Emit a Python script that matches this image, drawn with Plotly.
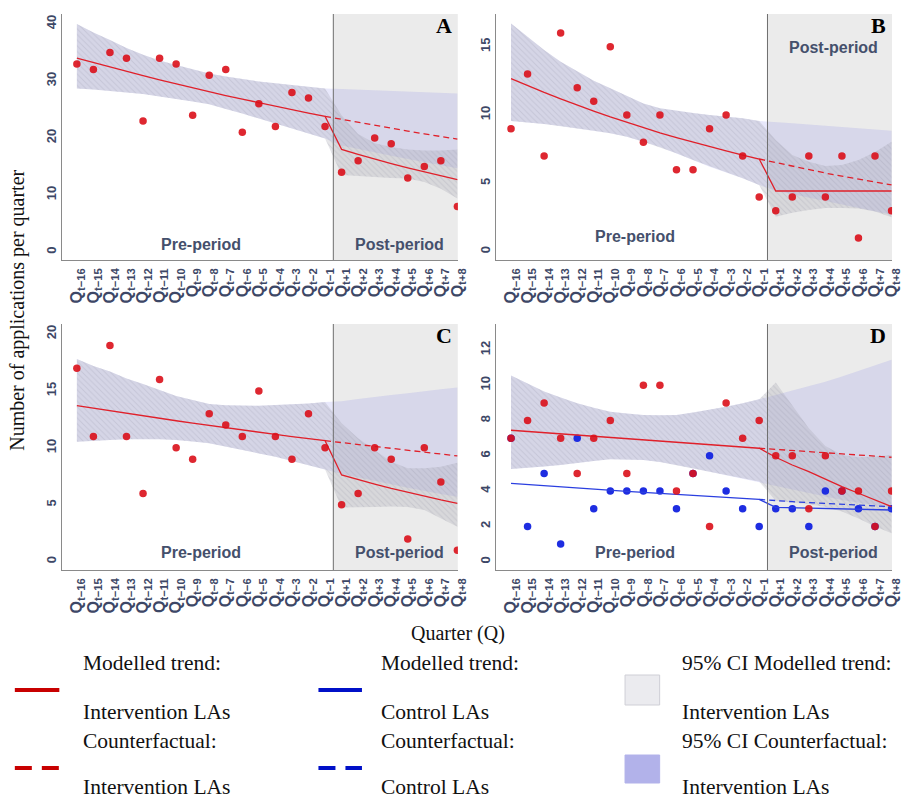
import plotly.graph_objects as go

# ---------------- data ----------------
quarters = ["t−16", "t−15", "t−14", "t−13", "t−12", "t−11", "t−10", "t−9",
            "t−8", "t−7", "t−6", "t−5", "t−4", "t−3", "t−2", "t−1",
            "t+1", "t+2", "t+3", "t+4", "t+5", "t+6", "t+7", "t+8"]
tick_labels = ["Q<sub>" + q + "</sub>" for q in quarters]

A_counts = [33, 32, 35, 34, 23, 34, 33, 24, 31, 32, 21, 26, 22, 28, 27, 22, 14, 16, 20, 19, 13, 15, 16, 8]
A_trend = [34.0, 33.2, 32.42, 31.66, 30.92, 30.19, 29.48, 28.79, 28.11, 27.45, 26.81, 26.18, 25.56, 24.96, 24.38, 23.80,
           18.0, 17.13, 16.29, 15.50, 14.75, 14.03, 13.35, 12.70]
A_ci_up = [40.0, 38.5, 37.2, 35.8, 34.6, 33.6, 32.8, 32.0, 31.3, 30.8, 30.3, 29.9, 29.6, 29.3, 29.1, 28.7,
           24.0, 20.7, 19.1, 18.4, 18.0, 17.8, 17.8, 18.0]
A_ci_lo = [28.7, 28.5, 28.3, 28.0, 27.7, 27.3, 26.9, 26.4, 25.9, 25.1, 24.3, 23.4, 22.5, 21.6, 20.8, 19.9,
           13.5, 13.3, 13.2, 13.0, 12.9, 12.3, 11.1, 9.4]
A_cf = [23.8, 23.26, 22.73, 22.21, 21.71, 21.21, 20.73, 20.26, 19.80]
A_cf_up = [28.7, 28.6, 28.5, 28.4, 28.3, 28.2, 28.1, 27.95, 27.8]
A_cf_lo = [19.9, 18.7, 18.1, 17.5, 16.9, 16.3, 15.7, 15.2, 14.7]

B_counts = [9, 13, 7, 16, 12, 11, 15, 10, 8, 10, 6, 6, 9, 10, 7, 4, 3, 4, 7, 4, 7, 1, 7, 3]
B_trend = [12.66, 12.14, 11.65, 11.18, 10.72, 10.28, 9.86, 9.46, 9.07, 8.70, 8.35, 8.01, 7.68, 7.37, 7.07, 6.78,
           4.44, 4.44, 4.44, 4.44, 4.44, 4.44, 4.44, 4.44]
B_ci_up = [16.7, 15.7, 14.75, 13.9, 13.2, 12.5, 11.95, 11.4, 10.85, 10.5, 10.3, 10.15, 10.0, 9.9, 9.76, 9.56,
           8.17, 7.07, 6.58, 6.27, 6.34, 6.7, 7.3, 8.05]
B_ci_lo = [9.56, 9.45, 9.34, 9.2, 9.02, 8.85, 8.66, 8.4, 8.05, 7.65, 7.2, 6.7, 6.22, 5.8, 5.37, 4.88,
           2.56, 2.85, 3.05, 3.2, 3.2, 3.15, 2.93, 2.52]
B_cf = [6.78, 6.51, 6.24, 5.99, 5.75, 5.52, 5.29, 5.08, 4.88]
B_cf_up = [9.56, 9.5, 9.4, 9.3, 9.2, 9.1, 9.0, 8.95, 8.85]
B_cf_lo = [4.88, 4.45, 4.2, 3.95, 3.7, 3.45, 3.2, 2.95, 2.7]

C_counts = [17, 11, 19, 11, 6, 16, 10, 9, 13, 12, 11, 15, 11, 9, 13, 10, 5, 6, 10, 9, 2, 10, 7, 1]
C_trend = [13.70, 13.47, 13.24, 13.02, 12.80, 12.59, 12.38, 12.17, 11.96, 11.76, 11.57, 11.37, 11.18, 10.99, 10.81, 10.63,
           7.62, 7.20, 6.81, 6.43, 6.08, 5.74, 5.43, 5.13]
C_ci_up = [17.8, 17.2, 16.7, 16.1, 15.6, 15.05, 14.55, 14.2, 13.85, 13.75, 13.7, 13.7, 13.76, 13.8, 13.9, 14.03,
           12.16, 10.84, 9.8, 8.79, 8.2, 8.2, 8.35, 8.7]
C_ci_lo = [10.54, 10.62, 10.7, 10.75, 10.78, 10.75, 10.7, 10.55, 10.4, 10.1, 9.8, 9.5, 9.22, 8.85, 8.5, 8.1,
           4.75, 4.8, 4.8, 4.85, 4.8, 4.54, 3.81, 3.07]
C_cf = [10.63, 10.47, 10.3, 10.13, 9.96, 9.79, 9.62, 9.45, 9.29]
C_cf_up = [14.03, 14.1, 14.3, 14.5, 14.65, 14.8, 15.0, 15.15, 15.3]
C_cf_lo = [8.1, 7.7, 7.4, 7.1, 6.8, 6.5, 6.2, 5.95, 5.7]

D_int_counts = [7, 8, 9, 7, 5, 7, 8, 5, 10, 10, 4, 5, 2, 9, 7, 8, 6, 6, 3, 6, 4, 4, 2, 4]
D_ctl_counts = [7, 2, 5, 1, 7, 3, 4, 4, 4, 4, 3, 5, 6, 4, 3, 2, 3, 3, 2, 4, 4, 3, 2, 3]
D_int_trend = [7.45, 7.38, 7.30, 7.23, 7.16, 7.09, 7.02, 6.95, 6.88, 6.82, 6.75, 6.68, 6.62, 6.55, 6.49, 6.43,
               5.92, 5.48, 5.10, 4.67, 4.25, 3.88, 3.50, 3.12]
D_ctl_trend = [4.44, 4.37, 4.31, 4.24, 4.18, 4.11, 4.05, 3.99, 3.93, 3.87, 3.81, 3.75, 3.70, 3.64, 3.59, 3.53,
               3.08, 3.06, 3.04, 3.02, 3.00, 2.98, 2.96, 2.93]
D_ci_up = [10.55, 10.1, 9.64, 9.3, 8.98, 8.72, 8.5, 8.4, 8.32, 8.3, 8.32, 8.45, 8.6, 8.78, 8.98, 9.2,
           10.15, 8.88, 7.56, 6.56, 6.05, 5.92, 5.96, 6.05]
D_ci_lo = [5.26, 5.32, 5.39, 5.48, 5.58, 5.7, 5.8, 5.8, 5.77, 5.65, 5.48, 5.3, 5.1, 4.92, 4.73, 4.54,
           3.45, 3.35, 3.25, 3.1, 2.85, 2.45, 2.0, 1.61]
D_int_cf = [6.43, 6.37, 6.30, 6.24, 6.17, 6.11, 6.05, 5.98, 5.92]
D_ctl_cf = [3.53, 3.45, 3.40, 3.35, 3.30, 3.25, 3.20, 3.16, 3.12]
D_cf_up = [9.2, 9.45, 9.7, 9.95, 10.2, 10.5, 10.8, 11.1, 11.44]
D_cf_lo = [4.54, 4.3, 4.1, 3.9, 3.7, 3.5, 3.35, 3.2, 3.06]

y_ranges = {"A": [-1.4, 41.75], "B": [-0.61, 17.39], "C": [-0.73, 20.88], "D": [-0.47, 13.47]}
y_ticks = {"A": [0, 10, 20, 30, 40], "B": [0, 5, 10, 15], "C": [0, 5, 10, 15, 20], "D": [0, 2, 4, 6, 8, 10, 12]}

# ---------------- style ----------------
W, H = 907, 799
RED = "#e0202a"
RED_PT = "rgb(218,16,26)"
BLUE = "#2b3fe0"
BLUE_PT = "rgb(30,45,225)"
TICK_COL = "#3d4766"
AX_COL = "#8a8a8a"
CF_FILL = "rgba(100,100,230,0.15)"
MOD_FILL = "rgba(165,165,175,0.28)"
SERIF = "Liberation Serif"
SANS = "Liberation Sans"

def px_x(p):
    return p / W

def px_y(p):
    return 1 - p / H

x_dom_left = [px_x(63), px_x(463)]
x_dom_right = [px_x(502), px_x(902)]
y_dom_top = [px_y(260), px_y(14)]
y_dom_bot = [px_y(570), px_y(324)]

fig = go.Figure()
layout_axes = {}
shapes = []
annotations = []

def add_panel(n, letter, xdom, ydom, counts, trend, ci_up, ci_lo, cf, cf_up, cf_lo,
              ctl_counts=None, ctl_trend=None, ctl_cf=None, pre_y=0.06, post_y=0.06):
    xa = "x" if n == 1 else f"x{n}"
    ya = "y" if n == 1 else f"y{n}"
    # counterfactual CI band (pre part equal to modelled CI)
    band_up = ci_up[:15] + cf_up
    band_lo = ci_lo[:15] + cf_lo
    fig.add_trace(go.Scatter(x=quarters + quarters[::-1], y=band_up + band_lo[::-1],
                             fill="toself", fillcolor=CF_FILL, line=dict(width=0),
                             mode="lines", hoverinfo="skip", showlegend=False,
                             xaxis=xa, yaxis=ya))
    # modelled CI band (hatched grey)
    fig.add_trace(go.Scatter(x=quarters + quarters[::-1], y=ci_up + ci_lo[::-1],
                             fill="toself", fillcolor=MOD_FILL, line=dict(width=0),
                             fillpattern=dict(shape="\\", size=4, solidity=0.25,
                                              fgcolor="rgba(120,120,140,0.35)",
                                              bgcolor=MOD_FILL, fillmode="overlay"),
                             mode="lines", hoverinfo="skip", showlegend=False,
                             xaxis=xa, yaxis=ya))
    # control series
    if ctl_counts is not None:
        fig.add_trace(go.Scatter(x=quarters, y=ctl_counts, mode="markers",
                                 marker=dict(color=BLUE_PT, size=7.5), showlegend=False,
                                 xaxis=xa, yaxis=ya))
        fig.add_trace(go.Scatter(x=quarters, y=ctl_trend, mode="lines",
                                 line=dict(color=BLUE, width=1.3), showlegend=False,
                                 xaxis=xa, yaxis=ya))
        fig.add_trace(go.Scatter(x=quarters[15:], y=ctl_cf, mode="lines",
                                 line=dict(color=BLUE, width=1.3, dash="6px,4px"), showlegend=False,
                                 xaxis=xa, yaxis=ya))
    # intervention series
    fig.add_trace(go.Scatter(x=quarters, y=trend, mode="lines",
                             line=dict(color=RED, width=1.3), showlegend=False,
                             xaxis=xa, yaxis=ya))
    fig.add_trace(go.Scatter(x=quarters[15:], y=cf, mode="lines",
                             line=dict(color=RED, width=1.3, dash="6px,4px"), showlegend=False,
                             xaxis=xa, yaxis=ya))
    fig.add_trace(go.Scatter(x=quarters, y=counts, mode="markers",
                             marker=dict(color=RED_PT, size=7.5, opacity=0.9), showlegend=False,
                             xaxis=xa, yaxis=ya))

    key = "" if n == 1 else str(n)
    layout_axes["xaxis" + key] = dict(
        domain=xdom, anchor=ya, type="category", range=[-0.88, 23.03],
        tickmode="array", tickvals=quarters, ticktext=tick_labels, tickangle=-90,
        tickfont=dict(family=SANS, size=16, color=TICK_COL, weight="bold"),
        showline=True, linecolor=AX_COL, linewidth=1, ticks="", ticklabelstandoff=1,
        showgrid=False, zeroline=False, fixedrange=True)
    layout_axes["yaxis" + key] = dict(
        domain=ydom, anchor=xa, range=y_ranges[letter], tickvals=y_ticks[letter],
        tickangle=-90, tickfont=dict(family=SANS, size=13, color=TICK_COL, weight="bold"),
        showline=True, linecolor=AX_COL, linewidth=1, ticks="", ticklabelstandoff=0,
        showgrid=False, zeroline=False, fixedrange=True)

    # post-period shading and vertical separator
    shapes.append(dict(type="rect", xref=xa, yref=ya + " domain", x0=15.5, x1=23.03, y0=0, y1=1,
                       fillcolor="#ebebeb", line=dict(width=0), layer="below"))
    shapes.append(dict(type="line", xref=xa, yref=ya + " domain", x0=15.5, x1=15.5, y0=0, y1=1,
                       line=dict(color="#6e6e6e", width=1), layer="above"))
    # texts
    pfont = dict(family=SANS, size=16, color="#45506c", weight="bold")
    annotations.append(dict(text="Pre-period", xref=xa, yref=ya + " domain", x=7.5, y=pre_y,
                            xanchor="center", yanchor="middle", showarrow=False, font=pfont))
    annotations.append(dict(text="Post-period", xref=xa, yref=ya + " domain", x=19.5, y=post_y,
                            xanchor="center", yanchor="middle", showarrow=False, font=pfont))
    annotations.append(dict(text=letter, xref=xa + " domain", yref=ya + " domain", x=0.99, y=0.955,
                            xanchor="right", yanchor="middle", showarrow=False,
                            font=dict(family=SERIF, size=22, color="black", weight="bold")))


add_panel(1, "A", x_dom_left, y_dom_top, A_counts, A_trend, A_ci_up, A_ci_lo, A_cf, A_cf_up, A_cf_lo,
          pre_y=0.061, post_y=0.061)
add_panel(2, "B", x_dom_right, y_dom_top, B_counts, B_trend, B_ci_up, B_ci_lo, B_cf, B_cf_up, B_cf_lo,
          pre_y=0.0935, post_y=0.862)
add_panel(3, "C", x_dom_left, y_dom_bot, C_counts, C_trend, C_ci_up, C_ci_lo, C_cf, C_cf_up, C_cf_lo,
          pre_y=0.073, post_y=0.073)
add_panel(4, "D", x_dom_right, y_dom_bot, D_int_counts, D_int_trend, D_ci_up, D_ci_lo, D_int_cf, D_cf_up, D_cf_lo,
          ctl_counts=D_ctl_counts, ctl_trend=D_ctl_trend, ctl_cf=D_ctl_cf, pre_y=0.073, post_y=0.073)

# axis titles
annotations.append(dict(text="Number of applications per quarter", xref="paper", yref="paper",
                        x=px_x(17), y=px_y(310), xanchor="center", yanchor="middle",
                        textangle=-90, showarrow=False,
                        font=dict(family=SERIF, size=20, color="#111111")))
annotations.append(dict(text="Quarter (Q)", xref="paper", yref="paper",
                        x=px_x(463), y=px_y(633), xanchor="center", yanchor="middle", showarrow=False,
                        font=dict(family=SERIF, size=20, color="#111111")))

# legend (custom, drawn in paper space)
leg_font = dict(family=SERIF, size=21.5, color="#111111")
legend_rows = [
    (82, 663, "Modelled trend:"), (82, 712, "Intervention LAs"),
    (82, 741, "Counterfactual:"), (82, 787, "Intervention LAs"),
    (383, 663, "Modelled trend:"), (383, 712, "Control LAs"),
    (383, 741, "Counterfactual:"), (383, 787, "Control LAs"),
    (688, 663, "95% CI Modelled trend:"), (688, 712, "Intervention LAs"),
    (688, 741, "95% CI Counterfactual:"), (688, 787, "Intervention LAs"),
]
for lx, ly, lt in legend_rows:
    annotations.append(dict(text=lt, xref="paper", yref="paper", x=px_x(lx), y=px_y(ly),
                            xanchor="left", yanchor="middle", showarrow=False, font=leg_font))

shapes.append(dict(type="line", xref="paper", yref="paper", x0=px_x(15), x1=px_x(60),
                   y0=px_y(690), y1=px_y(690), line=dict(color="#c80000", width=4)))
shapes.append(dict(type="line", xref="paper", yref="paper", x0=px_x(15), x1=px_x(60),
                   y0=px_y(768), y1=px_y(768), line=dict(color="#c80000", width=4, dash="17px,10px")))
shapes.append(dict(type="line", xref="paper", yref="paper", x0=px_x(322), x1=px_x(366),
                   y0=px_y(690), y1=px_y(690), line=dict(color="#0010c8", width=4)))
shapes.append(dict(type="line", xref="paper", yref="paper", x0=px_x(322), x1=px_x(366),
                   y0=px_y(768), y1=px_y(768), line=dict(color="#0010c8", width=4, dash="17px,10px")))
shapes.append(dict(type="rect", xref="paper", yref="paper", x0=px_x(632), x1=px_x(667),
                   y0=px_y(705), y1=px_y(675), fillcolor="#ebebef", line=dict(color="#cfcfd6", width=1)))
shapes.append(dict(type="rect", xref="paper", yref="paper", x0=px_x(632), x1=px_x(667),
                   y0=px_y(783), y1=px_y(755), fillcolor="#b2b2ea", line=dict(color="#b2b2ea", width=1)))

fig.update_layout(width=W, height=H, margin=dict(l=0, r=0, t=0, b=0),
                  paper_bgcolor="white", plot_bgcolor="white",
                  shapes=shapes, annotations=annotations, showlegend=False, **layout_axes)

fig.write_html("out.html")
